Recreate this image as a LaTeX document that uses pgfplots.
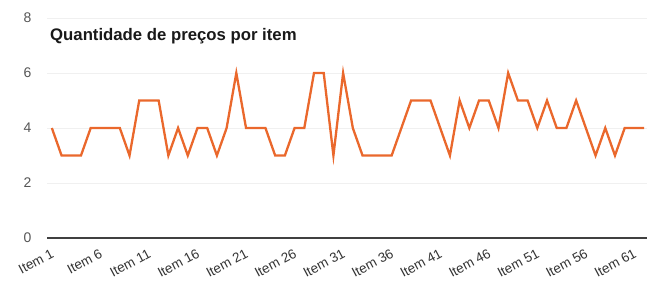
\documentclass[border=0pt]{standalone}
\usepackage{pgfplots}
\pgfplotsset{compat=1.18}
\usepackage{fontspec}
\setmainfont{Liberation Sans}
\definecolor{lineorange}{RGB}{234,104,44}
\definecolor{ticklab}{RGB}{85,85,85}
\begin{document}
\begin{tikzpicture}[x=1bp,y=1bp]
\useasboundingbox (0,0) rectangle (656,291);
\begin{axis}[
  at={(47bp,53bp)}, anchor=origin,
  scale only axis, width=600bp, height=220bp,
  xmin=0.5, xmax=62.3, ymin=0, ymax=8,
  axis x line=bottom, axis y line=left,
  x axis line style={draw=black!75, line width=1.2bp, -},
  y axis line style={draw=none},
  ytick={0,2,4,6,8},
  xtick={1,6,11,16,21,26,31,36,41,46,51,56,61},
  xticklabels={Item 1,Item 6,Item 11,Item 16,Item 21,Item 26,Item 31,Item 36,Item 41,Item 46,Item 51,Item 56,Item 61},
  major tick length=0pt,
  ymajorgrids, grid style={draw=black!6, line width=0.6bp},
  x tick label style={xshift=-1bp, yshift=-9bp, rotate=28, anchor=north east, font=\fontsize{13.5}{15}\selectfont, text=black!80, inner sep=1bp},
  y tick label style={font=\fontsize{14}{16}\selectfont, text=ticklab, xshift=-12bp},
  yticklabel style={/pgf/number format/assume math mode=true},
  clip=false,
]
\addplot[lineorange, line width=2.3bp] coordinates {
(1,4)(2,3)(3,3)(4,3)(5,4)(6,4)(7,4)(8,4)(9,3)(10,5)
(11,5)(12,5)(13,3)(14,4)(15,3)(16,4)(17,4)(18,3)(19,4)(20,6)
(21,4)(22,4)(23,4)(24,3)(25,3)(26,4)(27,4)(28,6)(29,6)(30,3)
(31,6)(32,4)(33,3)(34,3)(35,3)(36,3)(37,4)(38,5)(39,5)(40,5)
(41,4)(42,3)(43,5)(44,4)(45,5)(46,5)(47,4)(48,6)(49,5)(50,5)
(51,4)(52,5)(53,4)(54,4)(55,5)(56,4)(57,3)(58,4)(59,3)(60,4)
(61,4)(62,4)
};
\node[anchor=west, font=\bfseries\fontsize{16.8}{19}\selectfont, text=black!90, inner sep=0pt] at (rel axis cs:0.005,0.918) {Quantidade de preços por item};
\end{axis}
\end{tikzpicture}
\end{document}
